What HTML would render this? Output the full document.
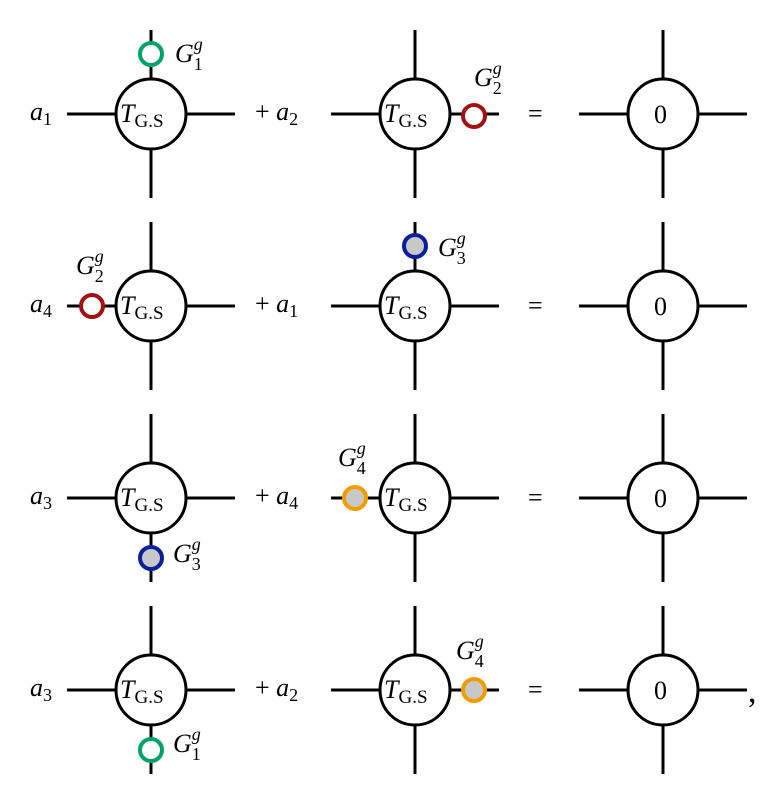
<!DOCTYPE html>
<html><head><style>body{margin:0;background:#fff}svg{display:block}</style></head><body>
<svg width="777" height="792" viewBox="0 0 777 792" xmlns="http://www.w3.org/2000/svg" font-family="Liberation Serif, serif">
<defs>
<g id="node">
<line x1="-84" y1="0" x2="84" y2="0" stroke="#000" stroke-width="3"/>
<line x1="0" y1="-84" x2="0" y2="84" stroke="#000" stroke-width="3"/>
<circle r="35" fill="#fff" stroke="#000" stroke-width="3"/>
</g>
</defs>
<g id="rows">
<!-- row centers -->
<g transform="translate(151,114)"><use href="#node"/></g>
<g transform="translate(415,114)"><use href="#node"/></g>
<g transform="translate(663,114)"><use href="#node"/></g>
<g transform="translate(151,306)"><use href="#node"/></g>
<g transform="translate(415,306)"><use href="#node"/></g>
<g transform="translate(663,306)"><use href="#node"/></g>
<g transform="translate(151,498)"><use href="#node"/></g>
<g transform="translate(415,498)"><use href="#node"/></g>
<g transform="translate(663,498)"><use href="#node"/></g>
<g transform="translate(151,690)"><use href="#node"/></g>
<g transform="translate(415,690)"><use href="#node"/></g>
<g transform="translate(663,690)"><use href="#node"/></g>
</g>
<g font-size="26">
<g id="tlabels">
<text x="120" y="122"><tspan font-style="italic">T</tspan><tspan font-size="19" dy="5">G.S</tspan></text>
<text x="384" y="122"><tspan font-style="italic">T</tspan><tspan font-size="19" dy="5">G.S</tspan></text>
<text x="120" y="314"><tspan font-style="italic">T</tspan><tspan font-size="19" dy="5">G.S</tspan></text>
<text x="384" y="314"><tspan font-style="italic">T</tspan><tspan font-size="19" dy="5">G.S</tspan></text>
<text x="120" y="506"><tspan font-style="italic">T</tspan><tspan font-size="19" dy="5">G.S</tspan></text>
<text x="384" y="506"><tspan font-style="italic">T</tspan><tspan font-size="19" dy="5">G.S</tspan></text>
<text x="120" y="698"><tspan font-style="italic">T</tspan><tspan font-size="19" dy="5">G.S</tspan></text>
<text x="384" y="698"><tspan font-style="italic">T</tspan><tspan font-size="19" dy="5">G.S</tspan></text>
</g>
<text x="654" y="123">0</text><text x="654" y="315">0</text><text x="654" y="507">0</text><text x="654" y="699">0</text>
<text x="528" y="122">=</text><text x="528" y="314">=</text><text x="528" y="506">=</text><text x="528" y="698">=</text>
<text x="748" y="702" font-size="34">,</text>
<!-- coefficients -->
<text x="30" y="120" font-style="italic">a<tspan font-style="normal" font-size="18" dy="5">1</tspan></text>
<text x="255" y="120">+ <tspan font-style="italic">a</tspan><tspan font-size="18" dy="5">2</tspan></text>
<text x="30" y="312" font-style="italic">a<tspan font-style="normal" font-size="18" dy="5">4</tspan></text>
<text x="255" y="312">+ <tspan font-style="italic">a</tspan><tspan font-size="18" dy="5">1</tspan></text>
<text x="30" y="504" font-style="italic">a<tspan font-style="normal" font-size="18" dy="5">3</tspan></text>
<text x="255" y="504">+ <tspan font-style="italic">a</tspan><tspan font-size="18" dy="5">4</tspan></text>
<text x="30" y="696" font-style="italic">a<tspan font-style="normal" font-size="18" dy="5">3</tspan></text>
<text x="255" y="696">+ <tspan font-style="italic">a</tspan><tspan font-size="18" dy="5">2</tspan></text>
<!-- G labels -->
<text x="175" y="62" font-style="italic">G<tspan font-size="18" dy="-12">g</tspan><tspan font-style="normal" font-size="18" dx="-9" dy="20">1</tspan></text>
<text x="474" y="86" font-style="italic">G<tspan font-size="18" dy="-12">g</tspan><tspan font-style="normal" font-size="18" dx="-9" dy="20">2</tspan></text>
<text x="76" y="274" font-style="italic">G<tspan font-size="18" dy="-12">g</tspan><tspan font-style="normal" font-size="18" dx="-9" dy="20">2</tspan></text>
<text x="438" y="256" font-style="italic">G<tspan font-size="18" dy="-12">g</tspan><tspan font-style="normal" font-size="18" dx="-9" dy="20">3</tspan></text>
<text x="173" y="562" font-style="italic">G<tspan font-size="18" dy="-12">g</tspan><tspan font-style="normal" font-size="18" dx="-9" dy="20">3</tspan></text>
<text x="338" y="466" font-style="italic">G<tspan font-size="18" dy="-12">g</tspan><tspan font-style="normal" font-size="18" dx="-9" dy="20">4</tspan></text>
<text x="173" y="752" font-style="italic">G<tspan font-size="18" dy="-12">g</tspan><tspan font-style="normal" font-size="18" dx="-9" dy="20">1</tspan></text>
<text x="456" y="659" font-style="italic">G<tspan font-size="18" dy="-12">g</tspan><tspan font-style="normal" font-size="18" dx="-9" dy="20">4</tspan></text>
</g>
<!-- small circles -->
<g stroke-width="4">
<circle cx="151" cy="54" r="11" fill="#fff" stroke="#00a36c"/>
<circle cx="474" cy="116" r="11" fill="#fff" stroke="#a50f0f"/>
<circle cx="92" cy="306" r="11" fill="#fff" stroke="#a50f0f"/>
<circle cx="415" cy="246" r="11" fill="#c8c8c8" stroke="#0a1f9e"/>
<circle cx="151" cy="558" r="11" fill="#c8c8c8" stroke="#0a1f9e"/>
<circle cx="355" cy="498" r="11" fill="#c8c8c8" stroke="#f39c00"/>
<circle cx="151" cy="750" r="11" fill="#fff" stroke="#00a36c"/>
<circle cx="474" cy="690" r="11" fill="#c8c8c8" stroke="#f39c00"/>
</g>
</svg>
</body></html>
